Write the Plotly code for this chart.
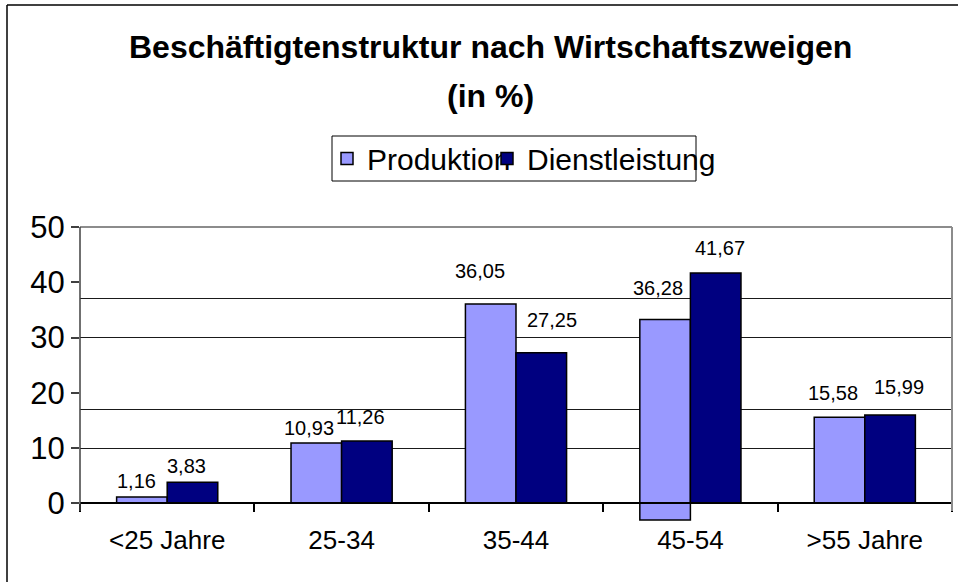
import plotly.graph_objects as go

categories = ["<25 Jahre", "25-34", "35-44", "45-54", ">55 Jahre"]
produktion = [1.16, 10.93, 36.05, 36.28, 15.58]
dienstleistung = [3.83, 11.26, 27.25, 41.67, 15.99]
produktion_labels = ["1,16", "10,93", "36,05", "36,28", "15,58"]
dienstleistung_labels = ["3,83", "11,26", "27,25", "41,67", "15,99"]
y_ticks = [0, 10, 20, 30, 40, 50]
grid_values = [10, 17, 30, 37]

# rendering quirk of the original: one bar drawn shifted below the axis
produktion_base = [0, 0, 0, -3.0, 0]

# label placement offsets (px)
lbl_dx_p = [-30.5, -32.6, -36, -32.1, -32.1]
lbl_dx_d = [19.1, 19.2, 36, 29.6, 34]
lbl_dy_p = [15.6, 15, 33, 31, 24.6]
lbl_dy_d = [16, 24, 33, 25, 27.7]

FONT = "Liberation Sans, Arial, sans-serif"
YMIN, YMAX = -3.2, 50
ML, MR, MT, MB = 80, 6, 227, 61
W, H = 958, 582
PH = H - MT - MB
PW = W - ML - MR

def px_x(px):
    return (px - ML) / PW

def px_y(py):
    return (H - MB - py) / PH

fig = go.Figure()
fig.add_trace(go.Bar(
    name="Produktion", x=categories, y=produktion, base=produktion_base, legend="legend",
    marker=dict(color="#9999FF", line=dict(color="black", width=1.5)),
))
fig.add_trace(go.Bar(
    name="Dienstleistung", x=categories, y=dienstleistung, legend="legend2",
    marker=dict(color="#000080", line=dict(color="black", width=1.5)),
))
# invisible trace so the gridline axis is drawn
fig.add_trace(go.Scatter(x=categories, y=[None] * len(categories), yaxis="y2",
                         showlegend=False, hoverinfo="skip"))

annotations = []
for i, c in enumerate(categories):
    annotations.append(dict(x=c, y=produktion[i] + produktion_base[i], xref="x", yref="y",
                            text=produktion_labels[i], showarrow=False,
                            xshift=lbl_dx_p[i], yshift=lbl_dy_p[i], yanchor="middle",
                            font=dict(family=FONT, size=20, color="black")))
    annotations.append(dict(x=c, y=dienstleistung[i], xref="x", yref="y",
                            text=dienstleistung_labels[i], showarrow=False,
                            xshift=lbl_dx_d[i], yshift=lbl_dy_d[i], yanchor="middle",
                            font=dict(family=FONT, size=20, color="black")))

annotations.append(dict(x=px_x(490), y=px_y(47), xref="paper", yref="paper",
                        text="<b>Beschäftigtenstruktur nach Wirtschaftszweigen</b>",
                        showarrow=False, xanchor="center", yanchor="middle",
                        font=dict(family=FONT, size=32, color="black")))
annotations.append(dict(x=px_x(490), y=px_y(95.5), xref="paper", yref="paper",
                        text="<b>(in %)</b>",
                        showarrow=False, xanchor="center", yanchor="middle",
                        font=dict(family=FONT, size=32, color="black")))

shapes = [
    # outer chart border (left, top)
    dict(type="line", xref="paper", yref="paper", x0=px_x(7), x1=px_x(7), y0=px_y(5), y1=px_y(600),
         line=dict(color="black", width=1.5)),
    dict(type="line", xref="paper", yref="paper", x0=px_x(7), x1=px_x(970), y0=px_y(5), y1=px_y(5),
         line=dict(color="black", width=1.5)),
    # plot area border (top, right) and value-axis line
    dict(type="line", xref="paper", yref="paper", x0=0, x1=1, y0=1, y1=1,
         line=dict(color="#8c8c8c", width=2)),
    dict(type="line", xref="paper", yref="paper", x0=1, x1=1, y0=px_y(511), y1=1,
         line=dict(color="#8c8c8c", width=2)),
    dict(type="line", xref="paper", yref="paper", x0=0, x1=0, y0=px_y(511), y1=1,
         line=dict(color="#404040", width=1.5)),
    # legend frame
    dict(type="rect", xref="paper", yref="paper", x0=px_x(332), x1=px_x(696),
         y0=px_y(181), y1=px_y(136), line=dict(color="black", width=1)),
]

zero_pos = (0 - YMIN) / (YMAX - YMIN)
leg_font = dict(family=FONT, size=30, color="black")

fig.update_layout(
    width=W, height=H,
    margin=dict(l=ML, r=MR, t=MT, b=MB, autoexpand=False),
    paper_bgcolor="white", plot_bgcolor="white",
    barmode="group", bargap=0.42, bargroupgap=0,
    font=dict(family=FONT, color="black"),
    showlegend=True,
    legend=dict(orientation="h", x=px_x(327), y=px_y(158.5), xanchor="left", yanchor="middle",
                borderwidth=0, bgcolor="rgba(0,0,0,0)", font=leg_font),
    legend2=dict(orientation="h", x=px_x(487), y=px_y(158.5), xanchor="left", yanchor="middle",
                 borderwidth=0, bgcolor="rgba(0,0,0,0)", font=leg_font),
    xaxis=dict(type="category", anchor="free", position=zero_pos,
               showline=True, linecolor="black", linewidth=1.5,
               ticks="outside", tickson="boundaries", ticklen=8, tickcolor="black", tickwidth=1.5,
               tickfont=dict(family=FONT, size=26, color="black"), ticklabelstandoff=14,
               showgrid=False, layer="above traces"),
    yaxis=dict(range=[YMIN, YMAX], tickvals=y_ticks, ticktext=[str(v) for v in y_ticks],
               showline=False,
               ticks="outside", ticklen=8, tickcolor="#404040", tickwidth=1.5,
               tickfont=dict(family=FONT, size=31, color="black"),
               showgrid=False, zeroline=False),
    yaxis2=dict(range=[YMIN, YMAX], overlaying="y", side="left", tickvals=grid_values,
                showticklabels=False, ticks="", showgrid=True, gridcolor="#1a1a1a", gridwidth=1,
                zeroline=False, showline=False),
    annotations=annotations,
    shapes=shapes,
)

fig.write_html("out.html", post_script="document.body.style.margin='0';",
               config={"displayModeBar": False})
